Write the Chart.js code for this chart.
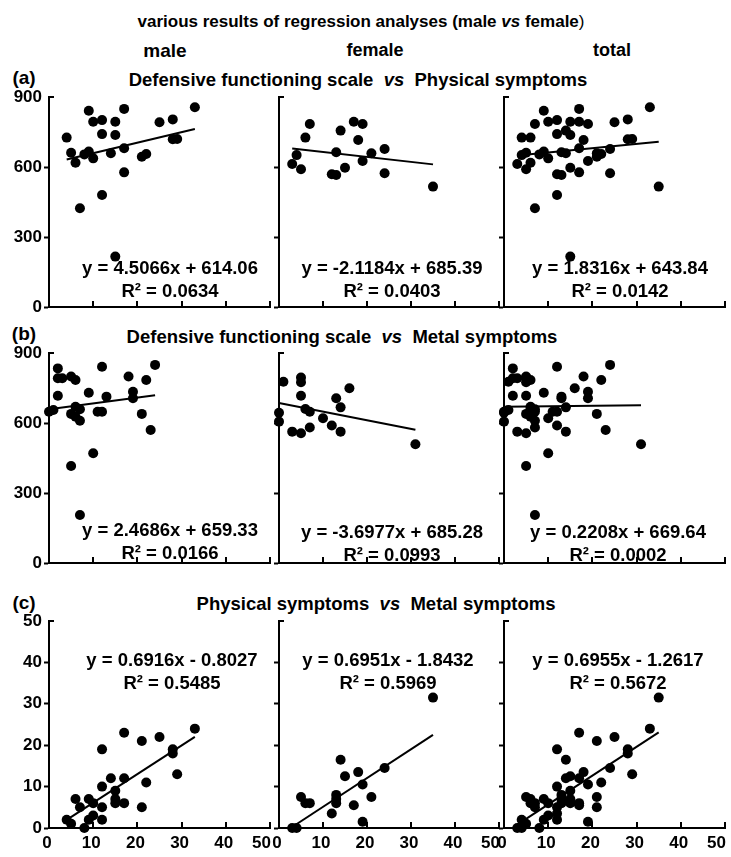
<!DOCTYPE html>
<html>
<head>
<meta charset="utf-8">
<script src="https://cdn.jsdelivr.net/npm/chart.js@4.4.0/dist/chart.umd.min.js"></script>
<style>
  body { margin: 0; background: #fff; }
  #fig { position: relative; width: 731px; height: 857px; overflow: hidden;
         font-family: "Liberation Sans", Arial, sans-serif; font-weight: bold; color: #000; }
  .t { position: absolute; white-space: nowrap; transform: translate(-50%, -50%); line-height: 1; }
  #fig canvas { position: absolute; }
</style>
</head>
<body>
<div id="fig">
  <div class="t" style="left:361px;top:21px;font-size:17px">various results of regression analyses (male <i>vs</i> female<span style="font-weight:normal">)</span></div>
  <div class="t" style="left:165px;top:50px;font-size:19px">male</div>
  <div class="t" style="left:375px;top:50px;font-size:18px">female</div>
  <div class="t" style="left:612px;top:50px;font-size:18px">total</div>

  <div class="t" style="left:24px;top:77px;font-size:19px">(a)</div>
  <div class="t" style="left:358px;top:80px;font-size:18.5px">Defensive functioning scale&nbsp;&nbsp;<i>vs</i>&nbsp;&nbsp;Physical symptoms</div>
  <div class="t" style="left:24px;top:333px;font-size:19px">(b)</div>
  <div class="t" style="left:342px;top:337px;font-size:18.5px">Defensive functioning scale&nbsp;&nbsp;<i>vs</i>&nbsp;&nbsp;Metal symptoms</div>
  <div class="t" style="left:24px;top:602px;font-size:19px">(c)</div>
  <div class="t" style="left:376px;top:604px;font-size:18.5px">Physical symptoms&nbsp;&nbsp;<i>vs</i>&nbsp;&nbsp;Metal symptoms</div>
</div>
<script>
// (a) physical symptoms (x) vs defensive functioning scale (y)
const maleA_x = [4, 5, 6, 7, 8, 9, 9, 10, 10, 12, 12, 12, 14, 15, 15, 15, 17, 17, 17, 21, 22, 25, 28, 28, 29, 33];
const maleA_y = [726, 661, 618, 423, 654, 841, 666, 794, 637, 801, 741, 480, 659, 794, 737, 216, 849, 680, 577, 644, 656, 792, 804, 719, 720, 856];
const femaleA_x = [3, 4, 5, 6, 7, 12, 13, 13, 14, 15, 17, 18, 19, 19, 21, 24, 24, 35];
const femaleA_y = [613, 651, 590, 726, 784, 569, 663, 566, 756, 597, 794, 716, 784, 626, 659, 677, 573, 516];

// (b) metal symptoms (x) vs defensive functioning scale (y)
const maleB_x = [0, 1, 2, 2, 2, 3, 5, 5, 5, 6, 6, 6, 7, 7, 7, 9, 10, 11, 12, 12, 13, 18, 19, 19, 21, 22, 23, 24];
const maleB_y = [648, 656, 834, 792, 717, 792, 799, 639, 416, 784, 670, 627, 659, 610, 206, 730, 470, 648, 648, 841, 713, 799, 734, 706, 639, 784, 570, 849];
const femaleB_x = [0, 0, 1, 3, 5, 5, 5, 5, 6, 7, 7, 10, 12, 13, 14, 14, 16, 31];
const femaleB_y = [644, 606, 777, 563, 795, 775, 717, 556, 660, 648, 581, 620, 589, 706, 667, 563, 749, 509];

// (c) physical symptoms (x) vs metal symptoms (y)
const maleC_x = [4, 5, 6, 7, 8, 9, 9, 10, 10, 12, 12, 12, 12, 14, 15, 15, 15, 17, 17, 17, 21, 21, 22, 25, 28, 28, 29, 33];
const maleC_y = [2, 1, 7, 5, 0, 7, 2, 6, 3, 19, 10, 5, 2, 12, 9, 7, 6, 23, 12, 6, 21, 5, 11, 22, 19, 18, 13, 24];
const femaleC_x = [3, 4, 5, 6, 7, 12, 13, 13, 13, 14, 15, 17, 18, 19, 19, 21, 24, 35];
const femaleC_y = [0, 0, 7.5, 6, 6, 3.5, 8, 7, 6, 16.5, 12.5, 5.5, 13.5, 10.5, 1.5, 7.5, 14.5, 31.5];

// trend lines: male, female, total
const slopeA = [4.5066, -2.1184, 1.8316];
const interceptA = [614.06, 685.39, 643.84];
const r2A = [0.0634, 0.0403, 0.0142];
const slopeB = [2.4686, -3.6977, 0.2208];
const interceptB = [659.33, 685.28, 669.64];
const r2B = [0.0166, 0.0993, 0.0002];
const slopeC = [0.6916, 0.6951, 0.6955];
const interceptC = [-0.8027, -1.8432, -1.2617];
const r2C = [0.5485, 0.5969, 0.5672];

// axis ticks
const xTicks = [0, 10, 20, 30, 40, 50];
const yTicksAB = [0, 300, 600, 900];
const yTicksC = [0, 10, 20, 30, 40, 50];

// layout
const colLeft = [0, 270, 495];
const colWidth = [276, 234, 236];
const yAxisW = [49, 9, 9];
const plotW = 221;
const rowTop = [87, 343, 611];
const plotH = [210, 210, 207];
const xAxisH = [8, 8, 28];
const eqPos = [
  [[170, 268], [392, 268], [620, 268]],
  [[170, 530], [392, 532], [618, 532]],
  [[172, 660], [388, 660], [618, 660]]
];
const FONT = '"Liberation Sans", Arial, sans-serif';

// inward x ticks, bracket at the top of the y axis, x tick labels on the last row
const axisMarks = {
  id: "axisMarks",
  afterDraw(chart, args, opts) {
    const ctx = chart.ctx, xs = chart.scales.x, ys = chart.scales.y, a = chart.chartArea;
    ctx.save();
    ctx.strokeStyle = "#000";
    ctx.lineWidth = 2;
    ctx.beginPath();
    xs.ticks.forEach((t, i) => {
      if (t.value === xs.min) return;
      const px = Math.round(xs.getPixelForTick(i));
      ctx.moveTo(px, a.bottom);
      ctx.lineTo(px, a.bottom - 6);
    });
    const top = Math.round(ys.getPixelForValue(ys.max));
    ctx.moveTo(a.left - 1, top);
    ctx.lineTo(a.left + 5, top);
    ctx.stroke();
    if (opts.labels) {
      ctx.fillStyle = "#000";
      ctx.font = "bold 17px " + FONT;
      ctx.textBaseline = "middle";
      xs.ticks.forEach((t, i) => {
        const last = i === xs.ticks.length - 1;
        ctx.textAlign = last ? "right" : "center";
        ctx.fillText(String(t.value), xs.getPixelForTick(i) + (last ? 1 : -2), a.bottom + 15);
      });
    }
    ctx.restore();
  },
};

function toPoints(xs, ys) {
  return xs.map((x, i) => ({ x: x, y: ys[i] }));
}

function fmtEq(m, b) {
  return "y = " + m + "x " + (b < 0 ? "- " : "+ ") + Math.abs(b);
}

const rows = [
  { male: [maleA_x, maleA_y], female: [femaleA_x, femaleA_y], slope: slopeA, icpt: interceptA, r2: r2A, yTicks: yTicksAB },
  { male: [maleB_x, maleB_y], female: [femaleB_x, femaleB_y], slope: slopeB, icpt: interceptB, r2: r2B, yTicks: yTicksAB },
  { male: [maleC_x, maleC_y], female: [femaleC_x, femaleC_y], slope: slopeC, icpt: interceptC, r2: r2C, yTicks: yTicksC },
];

const fig = document.getElementById("fig");

rows.forEach((row, r) => {
  const groups = [
    row.male,
    row.female,
    [row.male[0].concat(row.female[0]), row.male[1].concat(row.female[1])],
  ];
  const yMin = row.yTicks[0];
  const yMax = row.yTicks[row.yTicks.length - 1];
  groups.forEach((g, c) => {
    const pts = toPoints(g[0], g[1]);
    const xMinD = Math.min(...g[0]);
    const xMaxD = Math.max(...g[0]);
    const m = row.slope[c], b = row.icpt[c];
    const linePts = [
      { x: xMinD, y: m * xMinD + b },
      { x: xMaxD, y: m * xMaxD + b },
    ];

    const cv = document.createElement("canvas");
    cv.width = colWidth[c];
    cv.height = 10 + plotH[r] + xAxisH[r];
    cv.style.left = colLeft[c] + "px";
    cv.style.top = rowTop[r] + "px";
    fig.appendChild(cv);

    new Chart(cv.getContext("2d"), {
      type: "scatter",
      data: {
        datasets: [
          { data: linePts, showLine: true, borderColor: "#000", borderWidth: 2, pointRadius: 0, clip: false },
          { data: pts, pointRadius: 5, pointBackgroundColor: "#000", pointBorderWidth: 0, clip: false },
        ],
      },
      options: {
        responsive: false,
        animation: false,
        events: [],
        layout: { padding: { top: 10, left: 0, bottom: 0, right: colWidth[c] - yAxisW[c] - plotW } },
        plugins: {
          legend: { display: false },
          tooltip: { enabled: false },
          axisMarks: { labels: r === 2 },
        },
        scales: {
          x: {
            type: "linear",
            min: xTicks[0],
            max: xTicks[xTicks.length - 1],
            ticks: { display: false, stepSize: xTicks[1] - xTicks[0] },
            grid: { drawOnChartArea: false, drawTicks: false },
            border: { color: "#000", width: 2 },
            afterFit(s) { s.height = xAxisH[r]; s.paddingLeft = 0; s.paddingRight = 0; },
          },
          y: {
            type: "linear",
            min: yMin,
            max: yMax,
            ticks: {
              display: c === 0,
              stepSize: row.yTicks[1] - row.yTicks[0],
              padding: 2,
              color: "#000",
              font: { family: FONT, size: 17, weight: "bold" },
            },
            grid: {
              drawOnChartArea: false,
              drawTicks: true,
              tickLength: 5,
              tickWidth: 2,
              tickColor: (ctx) => (ctx.tick && ctx.tick.value === yMax ? "rgba(0,0,0,0)" : "#000"),
            },
            border: { color: "#000", width: 2 },
            afterFit(s) { s.width = yAxisW[c]; s.paddingTop = 0; s.paddingBottom = 0; },
          },
        },
      },
      plugins: [axisMarks],
    });

    const eq = document.createElement("div");
    eq.className = "t";
    eq.style.cssText = "left:" + eqPos[r][c][0] + "px;top:" + eqPos[r][c][1] + "px;font-size:18.5px";
    eq.textContent = fmtEq(m, b);
    fig.appendChild(eq);
    const rr = document.createElement("div");
    rr.className = "t";
    rr.style.cssText = "left:" + eqPos[r][c][0] + "px;top:" + (eqPos[r][c][1] + 23) + "px;font-size:18.5px";
    rr.textContent = "R\u00b2 = " + row.r2[c];
    fig.appendChild(rr);
  });
});
</script>
</body>
</html>
